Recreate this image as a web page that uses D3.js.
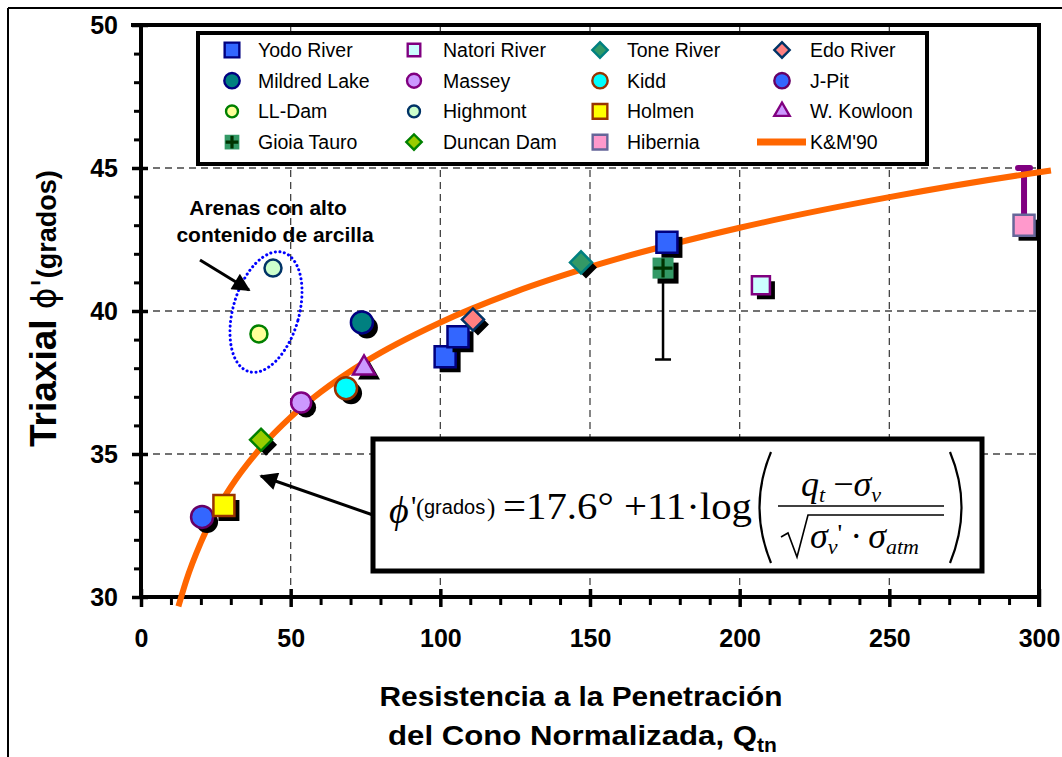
<!DOCTYPE html>
<html>
<head>
<meta charset="utf-8">
<script src="https://cdn.jsdelivr.net/npm/d3@7"></script>
<style>
  html, body { margin: 0; padding: 0; background: #fff; }
  svg { display: block; font-family: "Liberation Sans", Arial, sans-serif; }
</style>
</head>
<body>
<svg id="chart" width="1062" height="757"></svg>
<script>
// ---- data -------------------------------------------------------------
const sites = [
  "Yodo River", "Natori River", "Tone River", "Edo River",
  "Mildred Lake", "Massey", "Kidd", "J-Pit",
  "LL-Dam", "Highmont", "Holmen", "W. Kowloon",
  "Gioia Tauro", "Duncan Dam", "Hibernia"
];
// normalized cone resistance Qtn per site
const qtn = [
  [101.6, 105.9, 175.7], [207.1], [147.0], [110.9],
  [73.8], [53.5], [68.5], [20.4],
  [39.4], [44.1], [27.7], [74.5],
  [174.4], [40.1], [295.0]
];
// triaxial friction angle (degrees) per site
const phi = [
  [38.4, 39.1, 42.4], [40.9], [41.7], [39.7],
  [39.6], [36.8], [37.3], [32.8],
  [39.2], [41.5], [33.2], [38.0],
  [41.5], [35.5], [43.0]
];
// range bars
const gioiaRange = [38.3, 41.5];
const hiberniaRange = [43.0, 45.0];

// K&M'90 trend
const kmQ   = [12.5, 15, 20, 25, 30, 40, 50, 60, 75, 100, 125, 150, 200, 250, 300, 304];
const kmPhi = [29.67, 30.54, 31.91, 32.98, 33.85, 35.22, 36.29, 37.16, 38.23, 39.60, 40.67, 41.54, 42.91, 43.98, 44.85, 44.91];

const xTicks = [0, 50, 100, 150, 200, 250, 300];
const yTicks = [30, 35, 40, 45, 50];
const trendLabel = "K&M'90";

// ---- marker styles ----------------------------------------------------
const styles = {
  "Yodo River":   {shape: "square",   size: 21, fill: "#3366ff", stroke: "#000080", shadow: true},
  "Natori River": {shape: "square",   size: 18, fill: "#ccffff", stroke: "#800080", shadow: true},
  "Tone River":   {shape: "diamond",  size: 22, fill: "#339966", stroke: "#008080", shadow: true},
  "Edo River":    {shape: "diamond",  size: 22, fill: "#ff8080", stroke: "#003366", shadow: true},
  "Mildred Lake": {shape: "circle",   size: 22, fill: "#008080", stroke: "#000080", shadow: true},
  "Massey":       {shape: "circle",   size: 20, fill: "#cc99ff", stroke: "#800080", shadow: true},
  "Kidd":         {shape: "circle",   size: 22, fill: "#00ffff", stroke: "#993300", shadow: true},
  "J-Pit":        {shape: "circle",   size: 22, fill: "#3366ff", stroke: "#660066", shadow: true},
  "LL-Dam":       {shape: "circle",   size: 17, fill: "#ffff99", stroke: "#008000", shadow: false},
  "Highmont":     {shape: "circle",   size: 17, fill: "#ccffcc", stroke: "#003366", shadow: false},
  "Holmen":       {shape: "square",   size: 21, fill: "#ffff00", stroke: "#993300", shadow: true},
  "W. Kowloon":   {shape: "triangle", size: 22, fill: "#cc99ff", stroke: "#800080", shadow: true},
  "Gioia Tauro":  {shape: "cross",    size: 21, fill: "#339966", stroke: "#003300", shadow: true},
  "Duncan Dam":   {shape: "diamond",  size: 22, fill: "#99cc00", stroke: "#008000", shadow: true},
  "Hibernia":     {shape: "square",   size: 21, fill: "#ff99cc", stroke: "#666699", shadow: true}
};

// ---- layout -----------------------------------------------------------
const svg = d3.select("#chart");
const x = d3.scaleLinear().domain([0, 300]).range([141, 1039]);
const y = d3.scaleLinear().domain([30, 50]).range([597, 25]);

// outer frame edges
svg.append("line").attr("x1", 8).attr("x2", 1062).attr("y1", 8).attr("y2", 8)
  .attr("stroke", "#000").attr("stroke-width", 2);
svg.append("line").attr("x1", 8).attr("x2", 8).attr("y1", 8).attr("y2", 757)
  .attr("stroke", "#000").attr("stroke-width", 2);

// dashed grid
const grid = svg.append("g").attr("stroke", "#444").attr("stroke-width", 1.3)
  .attr("stroke-dasharray", "7,5");
grid.selectAll(".gx").data(xTicks.filter(d => d > 0 && d < 300)).join("line")
  .attr("x1", d => x(d)).attr("x2", d => x(d)).attr("y1", y(30)).attr("y2", y(50));
grid.selectAll(".gy").data(yTicks.filter(d => d > 30 && d < 50)).join("line")
  .attr("y1", d => y(d)).attr("y2", d => y(d)).attr("x1", x(0)).attr("x2", x(300));

// ---- axes -------------------------------------------------------------
const tickFont = g => g.selectAll("text")
  .attr("font-family", "'Liberation Sans', Arial, sans-serif")
  .attr("font-size", 25).attr("font-weight", "bold").attr("fill", "#000");

const yMinor = d3.range(31, 50).filter(d => d % 5 !== 0);
svg.append("g").attr("transform", `translate(${x(0)},0)`)
  .call(d3.axisLeft(y).tickValues(yMinor).tickSize(7).tickFormat(""))
  .call(g => g.select(".domain").remove())
  .call(g => g.selectAll(".tick line").attr("stroke-width", 3));
svg.append("g").attr("transform", `translate(${x(0)},0)`)
  .call(d3.axisLeft(y).tickValues(yTicks).tickSize(9).tickPadding(14).tickFormat(d3.format("d")))
  .call(g => g.select(".domain").attr("stroke-width", 4).attr("d", `M0,${y(50)}V${y(30)}`))
  .call(g => g.selectAll(".tick line").attr("stroke-width", 3.5).attr("x1", 7))
  .call(tickFont);

const xMinor = d3.range(10, 300, 10).filter(d => d % 50 !== 0);
svg.append("g").attr("transform", `translate(0,${y(30)})`)
  .call(d3.axisBottom(x).tickValues(xMinor).tickSize(8).tickFormat(""))
  .call(g => g.select(".domain").remove())
  .call(g => g.selectAll(".tick line").attr("stroke-width", 3));
svg.append("g").attr("transform", `translate(0,${y(30)})`)
  .call(d3.axisBottom(x).tickValues(xTicks).tickSize(10).tickPadding(22).tickFormat(d3.format("d")))
  .call(g => g.select(".domain").attr("stroke-width", 4).attr("d", `M${x(0)},0H${x(300)}`))
  .call(g => g.selectAll(".tick line").attr("stroke-width", 3.5).attr("y1", -8))
  .call(tickFont);

// top and right frame of the plot
svg.append("line").attr("x1", x(0) - 10).attr("x2", x(300) + 2).attr("y1", y(50)).attr("y2", y(50))
  .attr("stroke", "#000").attr("stroke-width", 4);
svg.append("line").attr("x1", x(300)).attr("x2", x(300)).attr("y1", y(50)).attr("y2", y(30) + 10)
  .attr("stroke", "#000").attr("stroke-width", 4);

// axis titles
const yTitle = svg.append("text").attr("transform", `translate(56,447) rotate(-90)`)
  .attr("font-weight", "bold").attr("fill", "#000");
yTitle.append("tspan").attr("font-size", 37).text("Triaxial ");
yTitle.append("tspan").attr("font-size", 33).attr("font-weight", "normal")
  .attr("font-family", "'DejaVu Sans', sans-serif").text("\u03D5'");
yTitle.append("tspan").attr("font-size", 27).text("(grados)");

svg.append("text").attr("x", 581).attr("y", 706).attr("text-anchor", "middle")
  .attr("font-size", 27).attr("font-weight", "bold")
  .attr("textLength", 403).attr("lengthAdjust", "spacingAndGlyphs")
  .text("Resistencia a la Penetración");
const xt2 = svg.append("text").attr("x", 388).attr("y", 745)
  .attr("font-size", 27).attr("font-weight", "bold");
xt2.append("tspan").attr("textLength", 369).attr("lengthAdjust", "spacingAndGlyphs")
  .text("del Cono Normalizada, Q");
xt2.append("tspan").attr("font-size", 21).attr("dy", 7).text("tn");

// ---- markers ----------------------------------------------------------
function symbolPath(shape, s) {
  if (shape === "circle") return d3.symbol(d3.symbolCircle, Math.PI * (s / 2) ** 2)();
  if (shape === "triangle") return d3.symbol(d3.symbolTriangle, s * s * 0.433)();
  return d3.symbol(d3.symbolSquare, shape === "diamond" ? s * s / 2 : s * s)();
}
function drawMarker(g, name, cx, cy, scale, withShadow) {
  const st = styles[name];
  const s = st.size * scale;
  const rot = st.shape === "diamond" ? " rotate(45)" : "";
  const path = symbolPath(st.shape, s);
  if (withShadow && st.shadow) {
    g.append("path").attr("d", path).attr("fill", "#000")
      .attr("transform", `translate(${cx + 5},${cy + 5})${rot}`);
  }
  const m = g.append("g").attr("transform", `translate(${cx},${cy})${rot}`);
  if (st.shape === "cross") {
    m.append("path").attr("d", path).attr("fill", st.fill);
    const h = s / 2 - 1;
    m.append("path").attr("d", `M${-h},0H${h}M0,${-h}V${h}`)
      .attr("stroke", st.stroke).attr("stroke-width", 3.2);
  } else {
    m.append("path").attr("d", path).attr("fill", st.fill)
      .attr("stroke", st.stroke).attr("stroke-width", 2.5 * Math.min(1, scale + 0.25));
  }
}

// range bars (behind the markers)
svg.append("path")
  .attr("d", `M${x(qtn[12][0])},${y(gioiaRange[1])}V${y(gioiaRange[0])}M${x(qtn[12][0]) - 8},${y(gioiaRange[0])}h16`)
  .attr("stroke", "#000").attr("stroke-width", 2.5).attr("fill", "none");
svg.append("path")
  .attr("d", `M${x(qtn[14][0])},${y(hiberniaRange[0])}V${y(hiberniaRange[1])}`)
  .attr("stroke", "#800080").attr("stroke-width", 6).attr("fill", "none");
svg.append("path")
  .attr("d", `M${x(qtn[14][0]) - 6},${y(hiberniaRange[1])}h12`)
  .attr("stroke", "#800080").attr("stroke-width", 6).attr("stroke-linecap", "round");

// K&M'90 trend
const line = d3.line().x(d => x(d[0])).y(d => y(d[1])).curve(d3.curveMonotoneX);
svg.append("path").datum(kmQ.map((q, i) => [q, kmPhi[i]]))
  .attr("d", line).attr("fill", "none").attr("stroke", "#ff6600").attr("stroke-width", 6);

const pts = svg.append("g");
sites.forEach((name, i) => {
  qtn[i].forEach((q, j) => drawMarker(pts, name, x(q), y(phi[i][j]), 1, true));
});

// ---- annotation: clayey sands -----------------------------------------
svg.append("ellipse").attr("cx", 0).attr("cy", 0).attr("rx", 33).attr("ry", 62)
  .attr("transform", "translate(266,312) rotate(16)")
  .attr("fill", "none").attr("stroke", "#0000ff").attr("stroke-width", 3)
  .attr("stroke-dasharray", "0.1,4.5").attr("stroke-linecap", "round");

const defs = svg.append("defs");
defs.append("marker").attr("id", "head").attr("viewBox", "0 0 10 10")
  .attr("refX", 9).attr("refY", 5).attr("markerWidth", 7).attr("markerHeight", 6)
  .attr("markerUnits", "strokeWidth").attr("orient", "auto")
  .append("path").attr("d", "M0,0L10,5L0,10z").attr("fill", "#000");

svg.append("line").attr("x1", 200).attr("y1", 260).attr("x2", 249).attr("y2", 290)
  .attr("stroke", "#000").attr("stroke-width", 3).attr("marker-end", "url(#head)");

const note = svg.append("text").attr("font-size", 21).attr("font-weight", "bold")
  .attr("text-anchor", "middle");
note.append("tspan").attr("x", 268).attr("y", 215).text("Arenas con alto");
note.append("tspan").attr("x", 275).attr("y", 242).text("contenido de arcilla");

// ---- equation box -----------------------------------------------------
svg.append("rect").attr("x", 373).attr("y", 439).attr("width", 609).attr("height", 132)
  .attr("fill", "#fff").attr("stroke", "#000").attr("stroke-width", 5);
svg.append("line").attr("x1", 373).attr("y1", 515).attr("x2", 261).attr("y2", 476)
  .attr("stroke", "#000").attr("stroke-width", 3).attr("marker-end", "url(#head)");

const serif = "'Liberation Serif', 'Times New Roman', serif";
const eq = svg.append("g").attr("font-family", serif).attr("fill", "#000");
eq.append("text").attr("x", 389).attr("y", 523).attr("font-size", 38).attr("font-style", "italic").text("\u03D5");
eq.append("text").attr("x", 411).attr("y", 516).attr("font-size", 30).text("'");
eq.append("text").attr("x", 416).attr("y", 516).attr("font-size", 25).text("(");
eq.append("text").attr("x", 424).attr("y", 514).attr("font-size", 20)
  .attr("font-family", "'Liberation Sans', Arial, sans-serif").text("grados");
eq.append("text").attr("x", 487).attr("y", 516).attr("font-size", 25).text(")");
eq.append("text").attr("x", 503).attr("y", 519).attr("font-size", 37)
  .attr("textLength", 249).attr("lengthAdjust", "spacingAndGlyphs")
  .text("=17.6\u00B0 +11\u00B7log");
// big parentheses
eq.append("path").attr("d", "M771,452 Q748,507 771,563").attr("fill", "none")
  .attr("stroke", "#000").attr("stroke-width", 2.2);
eq.append("path").attr("d", "M950,452 Q973,507 950,563").attr("fill", "none")
  .attr("stroke", "#000").attr("stroke-width", 2.2);
// numerator
const num = eq.append("text").attr("x", 801).attr("y", 496).attr("font-size", 36).attr("font-style", "italic");
num.append("tspan").text("q");
num.append("tspan").attr("font-size", 22).attr("dy", 6).text("t");
num.append("tspan").attr("dy", -6).attr("font-style", "normal").attr("dx", 8).text("\u2212");
num.append("tspan").text("\u03C3");
num.append("tspan").attr("font-size", 22).attr("dy", 6).text("v");
// fraction bar and radical
eq.append("line").attr("x1", 778).attr("x2", 944).attr("y1", 506).attr("y2", 506)
  .attr("stroke", "#000").attr("stroke-width", 1.6);
eq.append("path").attr("d", "M781,537 L788,533 L797,557 L808,515 L944,515")
  .attr("fill", "none").attr("stroke", "#000").attr("stroke-width", 1.6);
const den = eq.append("text").attr("x", 810).attr("y", 548).attr("font-size", 36).attr("font-style", "italic");
den.append("tspan").text("\u03C3");
den.append("tspan").attr("font-size", 22).attr("dy", 6).text("v");
den.append("tspan").attr("font-size", 26).attr("dy", -12).attr("font-style", "normal").text("'");
den.append("tspan").attr("dy", 6).attr("font-style", "normal").attr("dx", 8).text("\u00B7");
den.append("tspan").attr("dx", 6).text("\u03C3");
den.append("tspan").attr("font-size", 22).attr("dy", 6).text("atm");

// ---- legend -----------------------------------------------------------
svg.append("rect").attr("x", 198).attr("y", 33).attr("width", 729).attr("height", 131)
  .attr("fill", "#fff").attr("stroke", "#000").attr("stroke-width", 4);
const colMarker = [232, 414, 600, 782];
const colText = [258, 443, 627, 810];
const legend = svg.append("g").attr("font-size", 19.5);
const entries = sites.concat([trendLabel]);
entries.forEach((name, i) => {
  const c = i % 4, r = Math.floor(i / 4);
  const cy = 50 + r * 30.7;
  if (name === trendLabel) {
    legend.append("line").attr("x1", 757).attr("x2", 806).attr("y1", cy).attr("y2", cy)
      .attr("stroke", "#ff6600").attr("stroke-width", 7);
  } else {
    drawMarker(legend, name, colMarker[c], cy, 0.7, false);
  }
  legend.append("text").attr("x", colText[c]).attr("y", cy).attr("dy", "0.36em")
    .attr("fill", "#000").text(name);
});
</script>
</body>
</html>
